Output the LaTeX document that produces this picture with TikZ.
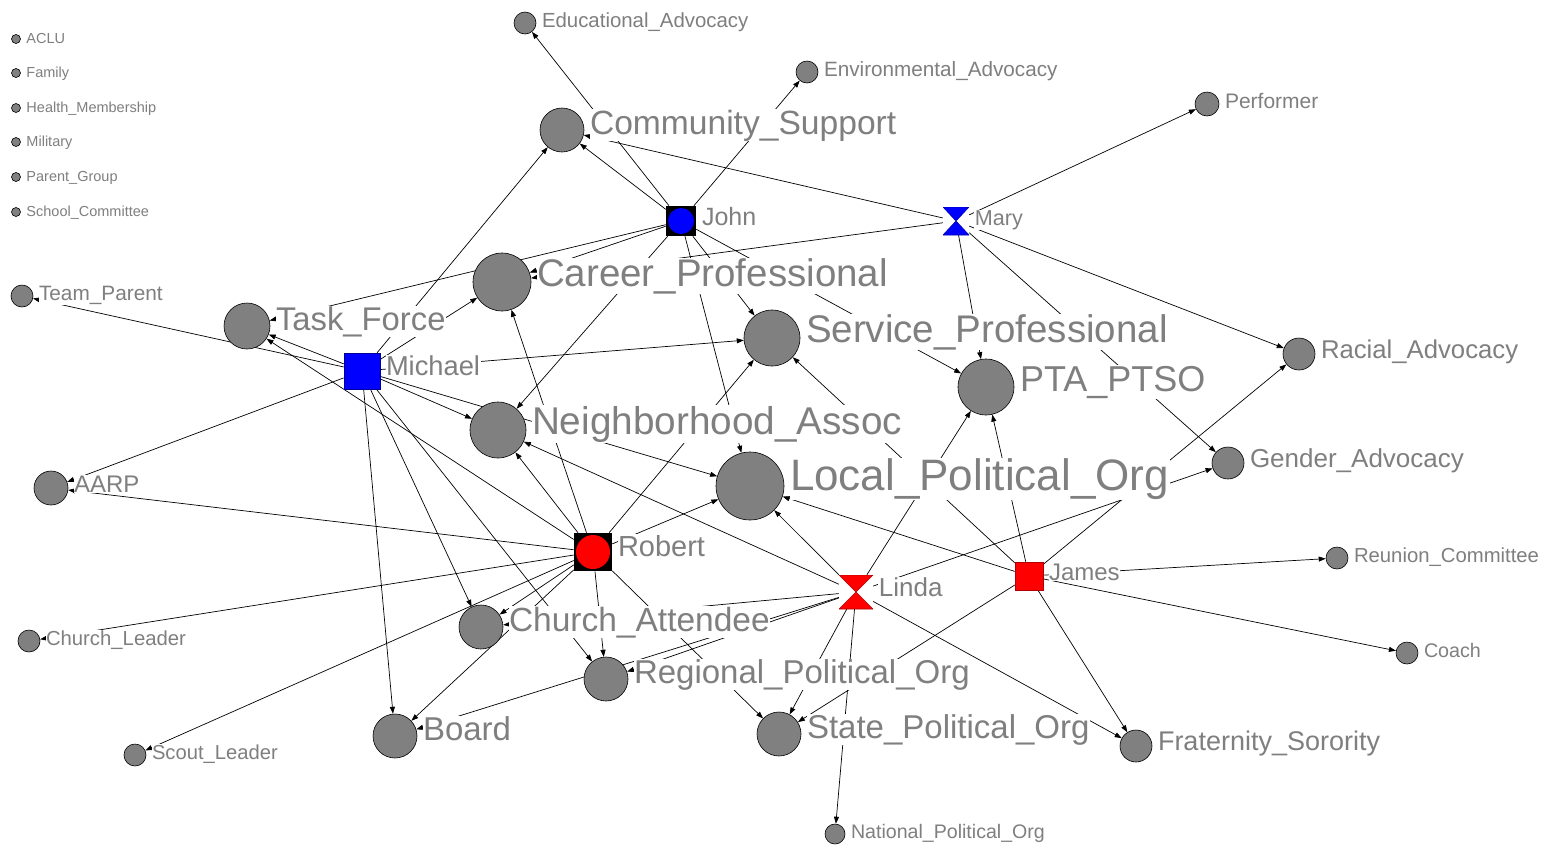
\documentclass[tikz,border=0pt]{standalone}
\usepackage{fontspec}
\setmainfont{Liberation Sans}
\usetikzlibrary{arrows.meta,calc}
\pgfdeclarelayer{edges}
\pgfsetlayers{edges,main}
\definecolor{orggray}{HTML}{808080}
\definecolor{lblgray}{HTML}{7F7F7F}
\newcommand\fsz[1]{\fontsize{#1}{#1}\selectfont}
\tikzset{
    org/.style={circle,fill=orggray,draw=black,line width=0.6pt,inner sep=0pt},
    lbl/.style={fill=white,text=lblgray,inner sep=0.5pt,anchor=base west},
    tie/.style={draw=black,line width=0.7pt,-{Triangle[length=7pt,width=5pt]}},
    member/.style={rectangle,inner sep=0pt,line width=0.6pt},
    hourglass/.style={rectangle,inner sep=0pt,
        path picture={\filldraw[fill=#1,draw=#1!70!black,line width=0.6pt]
          (path picture bounding box.north west) -- (path picture bounding box.north east)
          -- (path picture bounding box.south west) -- (path picture bounding box.south east) -- cycle;}}
}
\begin{document}
\begin{tikzpicture}[x=1pt,y=-1pt]
  \useasboundingbox (0,0) rectangle (1551,847);

  % isolates
  \foreach \n/\y/\txt in {ACLU/39/ACLU,Fam/73/Family,HM/108/Health\_Membership,
      Mil/142/Military,PG/177/Parent\_Group,SC/212/School\_Committee}{
    \node[org,minimum size=9] (\n) at (16,\y) {};
    \node[lbl,font=\fsz{14.5}] (t\n) at ($(\n.east)+(5,4)$) {\txt};
  }

  % organisations
  \foreach \n/\x/\y/\rad/\sz/\txt in {
      EA/525/23/11/20.4/Educational\_Advocacy,
      EnvA/807/72/11/20.7/Environmental\_Advocacy,
      Perf/1207/104/12/21/Performer,
      CS/562/130/22/33.6/Community\_Support,
      CP/502/282/29/38.5/Career\_Professional,
      TF/247/326/23/32.8/Task\_Force,
      TP/22/296/11/20.8/Team\_Parent,
      SP/772/338/28/38.5/Service\_Professional,
      PTA/986/387/28/36/PTA\_PTSO,
      RA/1299/354/16/25.7/Racial\_Advocacy,
      NA/498/430/28/38.7/Neighborhood\_Assoc,
      AARP/51/488/17/24/AARP,
      LPO/750/486/34/44/Local\_Political\_Org,
      GA/1228/463/16/26/Gender\_Advocacy,
      RC/1337/558/11/20.3/Reunion\_Committee,
      CA/481/627/22/33.5/Church\_Attendee,
      CL/29/641/11/20.3/Church\_Leader,
      Coach/1407/653/11/19.7/Coach,
      RPO/606/679/22/33/Regional\_Political\_Org,
      Board/395/736/22/33/Board,
      SPO/779/734/22/33/State\_Political\_Org,
      FS/1136/746/16/27/Fraternity\_Sorority,
      SL/135/755/11/20.2/Scout\_Leader,
      NPO/835/834/10/19.6/National\_Political\_Org}{
    \node[org,minimum size=2*\rad] (\n) at (\x,\y) {};
    \node[lbl,font=\fsz{\sz}] (t\n) at ($(\n.east)+(5,4)$) {\txt};
  }

  % persons
  \node[member,fill=black,minimum size=30,
        path picture={\fill[blue] (path picture bounding box.center) circle (13);}] (John) at (681,221) {};
  \node[hourglass=blue,minimum width=26,minimum height=28] (Mary) at (956,221) {};
  \node[member,fill=blue,draw=blue!60!black,minimum size=36] (Michael) at (362,371) {};
  \node[member,fill=black,minimum size=38,
        path picture={\fill[red] (path picture bounding box.center) circle (17);}] (Robert) at (593,552) {};
  \node[hourglass=red,minimum width=34,minimum height=34] (Linda) at (856,592) {};
  \node[member,fill=red,draw=red!70!black,minimum size=28] (James) at (1029,576) {};
  \foreach \n/\sz in {John/25,Mary/21.6,Michael/27.3,Robert/29,Linda/26,James/24}{
    \node[lbl,font=\fsz{\sz}] (t\n) at ($(\n.east)+(5,4)$) {\n};
  }

  % ties person -> organisation
  \begin{pgfonlayer}{edges}
    \foreach \a/\b in {John/CS,John/EA,John/EnvA,John/TF,John/CP,John/NA,John/LPO,John/SP,John/PTA,
        Mary/CS,Mary/CP,Mary/Perf,Mary/RA,Mary/PTA,Mary/GA,
        Michael/TF,Michael/TP,Michael/CS,Michael/CP,Michael/SP,Michael/NA,Michael/LPO,
        Michael/AARP,Michael/Board,Michael/CA,Michael/RPO,
        Robert/TF,Robert/CP,Robert/NA,Robert/SP,Robert/LPO,Robert/AARP,Robert/CL,
        Robert/SL,Robert/Board,Robert/CA,Robert/RPO,Robert/SPO,
        Linda/NA,Linda/LPO,Linda/PTA,Linda/CA,Linda/Board,Linda/RPO,Linda/SPO,
        Linda/NPO,Linda/FS,Linda/GA,
        James/SP,James/LPO,James/PTA,James/RA,James/SPO,James/RC,James/Coach,James/FS}{
      \draw[tie] (\a) -- (\b);
    }
  \end{pgfonlayer}
\end{tikzpicture}
\end{document}
